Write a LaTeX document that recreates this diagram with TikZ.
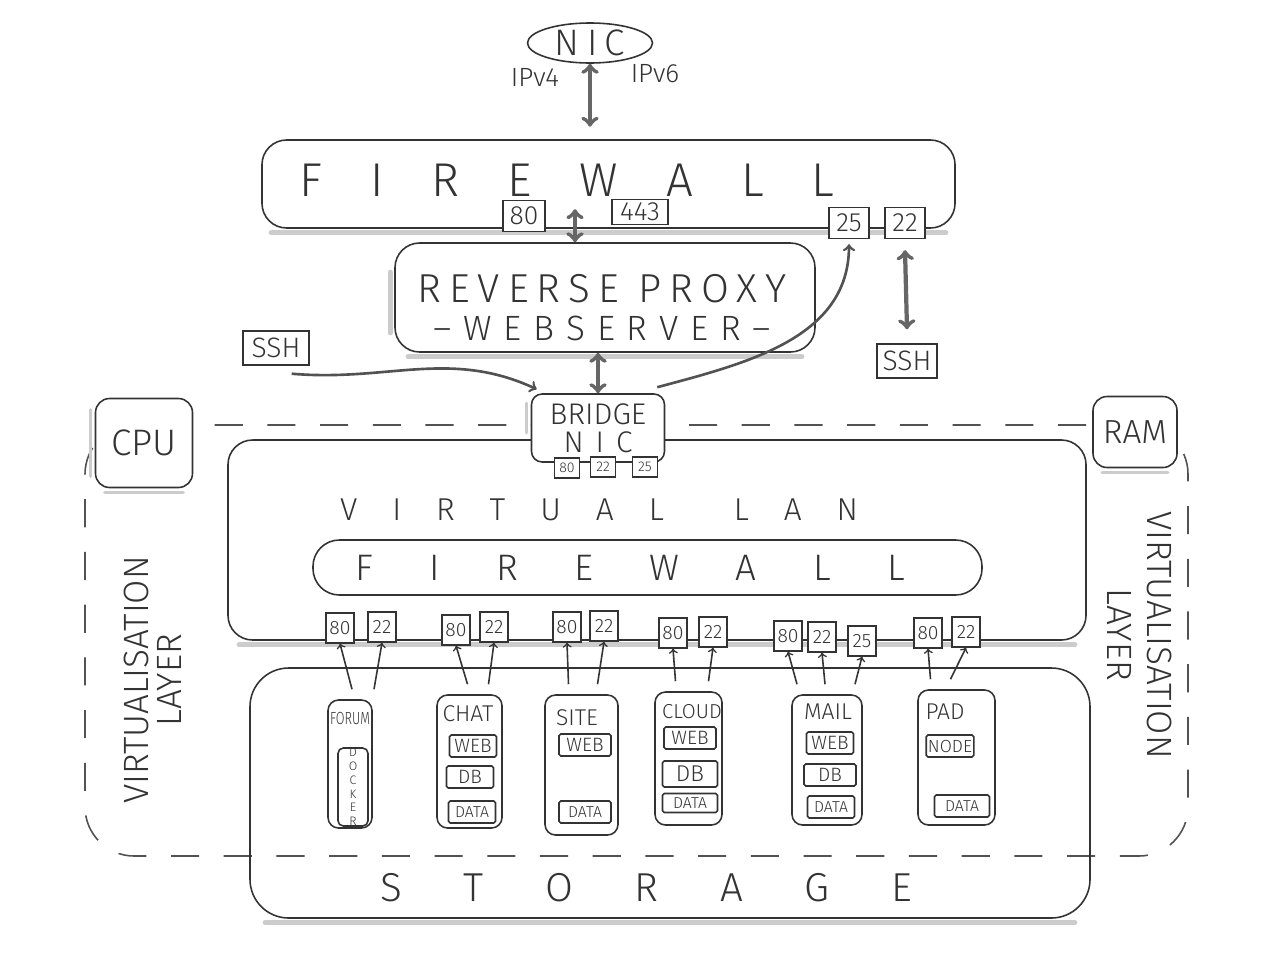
\documentclass[tikz,border=0pt]{standalone}
\usepackage{fontspec}
\usepackage{graphicx}
\setmainfont{Fira Sans}[UprightFont=* Light]
\usetikzlibrary{positioning,fit,calc,shapes.geometric}
\definecolor{ink}{HTML}{333333}
\newcommand\spreadtext[2]{\makebox[#1][s]{#2}}

\begin{document}
\begin{tikzpicture}[
    x=0.02cm, y=-0.02cm,
    every node/.style={text=ink},
    frame/.style={draw=ink, line width=0.9pt, rounded corners=14pt, inner sep=0pt},
    box/.style={draw=ink, line width=0.9pt, rounded corners=3pt, fill=white, inner sep=1pt},
    port/.style={draw=ink, line width=0.8pt, fill=white, inner sep=0pt},
    pbig/.style={port, minimum width=0.8cm, minimum height=0.62cm, font={\fontsize{15}{15}\selectfont}},
    pvl/.style={port, minimum width=0.56cm, minimum height=0.6cm, font={\fontsize{11}{11}\selectfont}},
    ptiny/.style={port, minimum width=0.5cm, minimum height=0.4cm, font={\fontsize{8}{8}\selectfont}},
    lbl/.style={font={\fontsize{13}{13}\selectfont}},
    title/.style={inner sep=0pt},
    inbox/.style={box, rounded corners=1pt, minimum width=0.94cm, minimum height=0.44cm, font={\fontsize{11}{11}\selectfont}},
    databox/.style={inbox, font={\fontsize{9}{9}\selectfont}},
    arr/.style={-to, draw=ink, line width=0.9pt},
    arrthick/.style={-to, draw=ink!85, line width=1.5pt},
    dbl/.style={to-to, draw=ink!75, line width=2.4pt},
    smudge/.style={draw=gray!40, line width=3pt, line cap=round},
    bound/.style={draw=ink!85, line width=0.9pt, dash pattern=on 16pt off 14pt, rounded corners=28pt, inner sep=0pt}
]
\useasboundingbox (0,0) rectangle (1266,974);

% virtualisation layer
\node[bound, fit={(85,425)(1188,856)}] (virt) {};
\node[rotate=90, align=center, font={\fontsize{20}{19}\selectfont}] (virtl) at (153,680) {VIRTUALISATION\\LAYER};
\node[rotate=-90, align=center, font={\fontsize{20}{23}\selectfont}] (virtr) at (1140,635) {VIRTUALISATION\\LAYER};

% host side
\node[draw=ink, line width=0.9pt, ellipse, minimum width=2.5cm, minimum height=0.8cm, inner sep=0pt,
      font={\fontsize{21}{21}\selectfont\addfontfeature{LetterSpace=20}}] (nic) at (590,43) {NIC};
\node[font={\fontsize{15}{15}\selectfont}] (ipv4) at (535,77) {IPv4};
\node[font={\fontsize{15}{15}\selectfont}] (ipv6) at (655,74) {IPv6};

\node[frame, fit={(262,140)(955,228)}] (fw) {};
\node[title, font={\fontsize{27}{27}\selectfont}] (fwtxt) at (567,180) {\spreadtext{10.7cm}{F I R E W A L L}};

\node[frame, fit={(395,243)(815,352)}] (proxy) {};
\node[title, font={\fontsize{23}{23}\selectfont\addfontfeature{LetterSpace=20}}] (proxytxt) at (602,289) {REVERSE PROXY};
\node[title, font={\fontsize{20}{20}\selectfont\addfontfeature{LetterSpace=34}}] (websrv) at (602,328) {–WEBSERVER–};

\draw[smudge] ([shift={(10,4)}]fw.south west) -- ([shift={(-10,4)}]fw.south east);
\draw[smudge] ([shift={(14,4)}]proxy.south west) -- ([shift={(-14,4)}]proxy.south east);
\draw[smudge] ([shift={(-4,30)}]proxy.north west) -- ([shift={(-4,-20)}]proxy.south west);

\node[pbig, minimum width=0.84cm] (fw80) at (524,216) {80};
\node[pbig, minimum width=1.12cm, minimum height=0.5cm] (fw443) at (640,212) {443};
\node[pbig] (fw25) at (849,223) {25};
\node[pbig] (fw22) at (905,223) {22};

\node[port, minimum width=1.32cm, minimum height=0.68cm, font={\fontsize{16}{16}\selectfont}] (sshl) at (276,348) {SSH};
\node[port, minimum width=1.2cm, minimum height=0.68cm, font={\fontsize{16}{16}\selectfont}] (sshr) at (907,361) {SSH};

% guest side
\node[frame, fit={(228,440)(1086,640)}] (vlan) {};
\node[title, font={\fontsize{18}{18}\selectfont}] (vlantxt) at (599,510) {\spreadtext{10.36cm}{V I R T U A L \ L A N}};
\node[frame, rounded corners=15pt, fit={(313,540)(982,595)}] (vfw) {};
\node[title, font={\fontsize{21}{21}\selectfont}] (vfwtxt) at (630,568) {\spreadtext{11cm}{F I R E W A L L}};

\node[frame, rounded corners=22pt, fit={(250,668)(1090,918)}] (storage) {};
\node[title, font={\fontsize{23}{23}\selectfont}] (stortxt) at (646,888) {\spreadtext{10.64cm}{S T O R A G E}};

\draw[smudge] ([shift={(12,4)}]vlan.south west) -- ([shift={(-12,4)}]vlan.south east);
\draw[smudge] ([shift={(16,4)}]storage.south west) -- ([shift={(-16,4)}]storage.south east);

\node[box, rounded corners=6pt, minimum width=2.66cm, minimum height=1.36cm, align=center,
      font={\fontsize{17}{16}\selectfont}] (bridge) at (598,428) {BRIDGE\\{\addfontfeature{LetterSpace=40}NIC}};
\node[ptiny] (br80) at (567,468) {80};
\node[ptiny] (br22) at (603,467) {22};
\node[ptiny] (br25) at (645,467) {25};

\node[box, rounded corners=8pt, minimum width=1.94cm, minimum height=1.78cm, font={\fontsize{21}{21}\selectfont}] (cpu) at (144,443) {CPU};
\node[box, rounded corners=8pt, minimum width=1.68cm, minimum height=1.42cm, font={\fontsize{19}{19}\selectfont}] (ram) at (1135,432) {RAM};
\draw[smudge, line width=2pt] ([shift={(10,4)}]cpu.south west) -- ([shift={(-10,4)}]cpu.south east);
\draw[smudge, line width=2pt] ([shift={(-4,12)}]cpu.north west) -- ([shift={(-4,-12)}]cpu.south west);
\draw[smudge, line width=2pt] ([shift={(10,4)}]ram.south west) -- ([shift={(-10,4)}]ram.south east);
\draw[smudge, line width=2pt] ([shift={(-4,10)}]bridge.north west) -- ([shift={(-4,-30)}]bridge.south west);

% containers
\node[frame, rounded corners=6pt, fit={(328,700)(372,828)}] (forum) {};
\node[font={\fontsize{10}{10}\selectfont}] (forumlbl) at (350,718) {\scalebox{0.72}[1]{FORUM}};
\node[box, minimum width=0.6cm, minimum height=1.56cm, inner sep=0pt, align=center, font={\fontsize{7}{7.8}\selectfont}] (docker) at (353,787) {D\\O\\C\\K\\E\\R};

\node[frame, rounded corners=6pt, fit={(437,695)(502,828)}] (chat) {};
\node[lbl] (chatlbl) at (468,714) {CHAT};
\node[inbox] (chatweb) at (473,746) {WEB};
\node[inbox] (chatdb) at (470,777) {DB};
\node[databox] (chatdata) at (472,812) {DATA};

\node[frame, rounded corners=6pt, fit={(545,695)(618,835)}] (site) {};
\node[lbl] (sitelbl) at (577,718) {SITE};
\node[inbox, minimum width=1.04cm] (siteweb) at (585,745) {WEB};
\node[databox, minimum width=1.04cm] (sitedata) at (585,812) {DATA};

\node[frame, rounded corners=6pt, fit={(655,692)(722,825)}] (cloud) {};
\node[font={\fontsize{11.5}{11.5}\selectfont}] (cloudlbl) at (692,712) {CLOUD};
\node[inbox, minimum width=1.04cm] (cloudweb) at (690,738) {WEB};
\node[inbox, minimum width=1.1cm, minimum height=0.52cm, font={\fontsize{13}{13}\selectfont}] (clouddb) at (690,774) {DB};
\node[databox, minimum width=1.1cm, minimum height=0.38cm] (clouddata) at (690,803) {DATA};

\node[frame, rounded corners=6pt, fit={(792,695)(862,825)}] (mail) {};
\node[lbl] (maillbl) at (828,712) {MAIL};
\node[inbox] (mailweb) at (830,743) {WEB};
\node[inbox, minimum width=1.04cm] (maildb) at (830,775) {DB};
\node[databox] (maildata) at (831,807) {DATA};

\node[frame, rounded corners=6pt, fit={(918,690)(995,825)}] (pad) {};
\node[lbl] (padlbl) at (945,712) {PAD};
\node[inbox, font={\fontsize{10}{10}\selectfont}] (padnode) at (950,746) {NODE};
\node[databox, minimum width=1.1cm] (paddata) at (962,806) {DATA};

% vlan ports
\node[pvl] (fo80) at (340,628) {80};
\node[pvl] (fo22) at (382,627) {22};
\node[pvl] (ch80) at (456,630) {80};
\node[pvl] (ch22) at (494,627) {22};
\node[pvl] (si80) at (567,627) {80};
\node[pvl] (si22) at (604,626) {22};
\node[pvl] (cl80) at (673,633) {80};
\node[pvl] (cl22) at (713,632) {22};
\node[pvl] (ma80) at (788,636) {80};
\node[pvl] (ma22) at (822,637) {22};
\node[pvl] (ma25) at (862,641) {25};
\node[pvl] (pa80) at (928,633) {80};
\node[pvl] (pa22) at (966,632) {22};

% connectors
\draw[dbl] (nic.south) -- ([yshift=0.25cm]nic.south |- fw.north);
\draw[dbl] ($(proxy.north)+(-30,-33)$) -- ($(proxy.north)+(-30,0)$);
\draw[dbl] (proxy.south -| bridge.north) -- (bridge.north);
\draw[dbl] ([yshift=-0.22cm]fw22.south) -- ([yshift=0.28cm]sshr.north);
\draw[arrthick] ([shift={(-8,-6)}]bridge.north east) to[out=15, in=-90] ([yshift=-0.1cm]fw25.south);
\draw[arrthick] ([shift={(-18,8)}]sshl.south east) to[out=-5, in=155] ([shift={(6,-4)}]bridge.north west);

\draw[arr] ([shift={(2,-10)}]forum.north) -- (fo80.south);
\draw[arr] ([shift={(24,-10)}]forum.north) -- (fo22.south);
\draw[arr] ([shift={(-2,-10)}]chat.north) -- (ch80.south);
\draw[arr] ([shift={(19,-10)}]chat.north) -- (ch22.south);
\draw[arr] ([shift={(-13,-10)}]site.north) -- (si80.south);
\draw[arr] ([shift={(16,-10)}]site.north) -- (si22.south);
\draw[arr] ([shift={(-13,-10)}]cloud.north) -- (cl80.south);
\draw[arr] ([shift={(20,-10)}]cloud.north) -- (cl22.south);
\draw[arr] ([shift={(-30,-10)}]mail.north) -- (ma80.south);
\draw[arr] ([shift={(-2,-10)}]mail.north) -- (ma22.south);
\draw[arr] ([shift={(28,-10)}]mail.north) -- (ma25.south);
\draw[arr] ([shift={(-26,-10)}]pad.north) -- (pa80.south);
\draw[arr] ([shift={(-6,-10)}]pad.north) -- (pa22.south);
\end{tikzpicture}
\end{document}
